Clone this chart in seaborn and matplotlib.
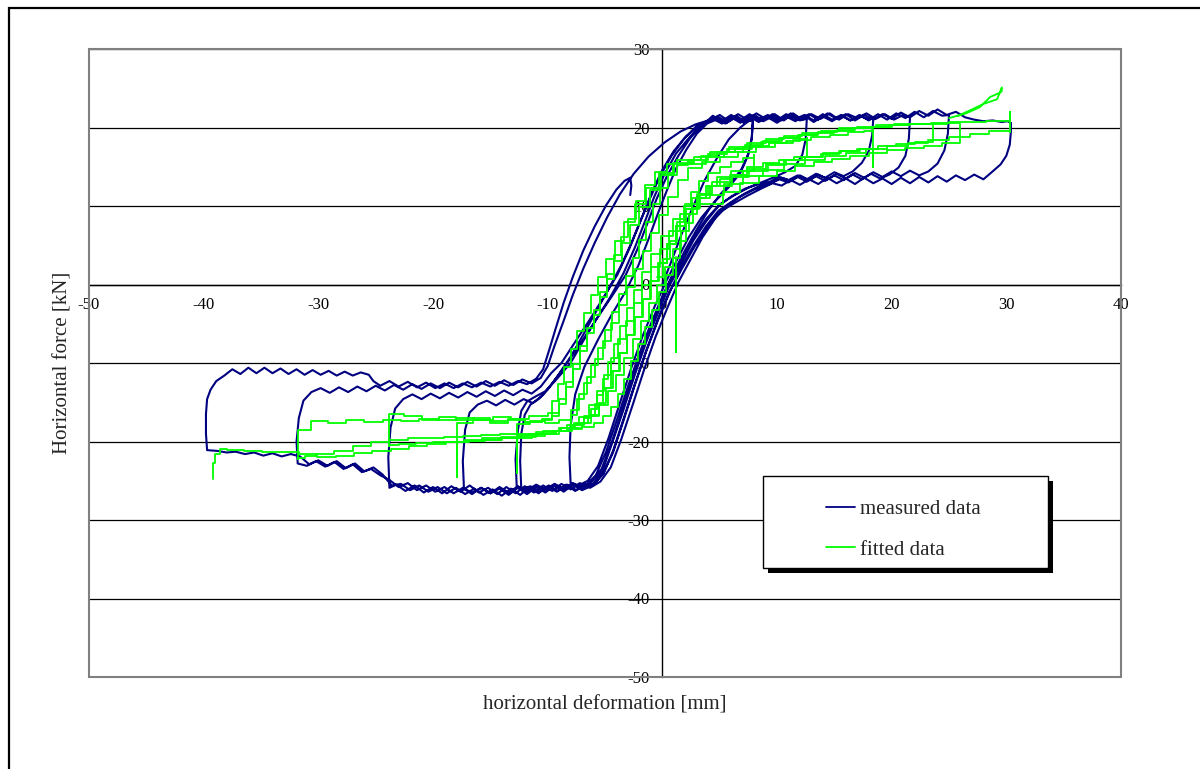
import numpy as np
import matplotlib
matplotlib.use("Agg")
import matplotlib.pyplot as plt
import seaborn as sns
from matplotlib.patches import Rectangle
from matplotlib.lines import Line2D

# ---------------- data ----------------
# measured data: hysteresis cycles (deformation mm, force kN)
m1_x = [0.0, 0.8, 1.7, 2.7, 3.7, 4.8, 5.8, 6.8, 7.5, 7.9, 7.8, 7.4, 6.8, 5.8, 4.6, 3.4, 2.3, 1.3, 0.3, -0.7,
        -1.7, -2.7, -3.7, -4.7, -5.6, -6.5, -7.3, -8.0, -8.1, -8.0, -7.6, -6.8, -5.6, -4.4, -3.2, -2.1, -1.2, -0.4,
        0.4, 1.2, 2.1, 3.0, 3.9]
m1_y = [0.0, 3.0, 6.5, 10.0, 13.3, 16.2, 18.5, 20.0, 20.8, 21.0, 18.5, 16.2, 14.2, 12.4, 10.6, 8.5, 6.0, 3.2, 0.3, -2.9,
        -6.5, -10.6, -15.1, -19.6, -23.1, -25.0, -25.6, -25.3, -22.0, -18.0, -14.0, -10.5, -7.0, -3.8, -0.9, 2.4, 5.8, 9.0,
        12.0, 14.8, 17.2, 19.2, 20.5]

m7_x = [4.7, 5.5, 6.3, 7.1, 7.9,
        7.8, 7.5, 6.9, 6.0, 5.0, 4.0, 3.0, 2.0, 1.0, 0.0, -1.0, -2.0, -3.0, -4.0, -4.9, -5.8,
        -6.7, -7.5, -8.3, -9.1, -9.9, -10.7, -11.5, -12.3,
        -12.4, -12.3, -12.0, -11.5, -10.8,
        -10.0, -9.1, -8.0, -6.9, -5.8, -4.7, -3.6, -2.6, -1.7, -0.9, 0.0, 1.0, 2.1, 3.3, 4.3]
m7_y = [21.0, 20.5, 21.2, 20.6, 21.0,
        18.8, 16.6, 14.7, 13.0, 11.4, 9.4, 7.0, 4.4, 1.6, -1.5, -5.0, -8.8, -13.0, -17.4, -21.3, -24.3,
        -25.6, -26.2, -25.5, -26.3, -25.6, -26.4, -25.7, -26.1,
        -22.5, -19.0, -16.6, -15.3, -14.6,
        -13.4, -11.6, -9.2, -6.4, -3.5, -0.6, 2.4, 5.6, 8.8, 11.8, 14.6, 17.0, 18.9, 20.3, 20.9]

m2_x = [4.8, 5.6, 6.4, 7.2, 8.0, 8.8, 9.6, 10.4, 11.2, 12.0, 12.6,
        12.5, 12.2, 11.6, 10.7, 9.8, 8.8, 7.6, 6.3, 5.0, 3.8, 2.7, 1.7, 0.6, -0.4, -1.4, -2.4, -3.4, -4.4, -5.3, -6.2,
        -7.0, -7.8, -8.6, -9.4, -10.2, -11.0, -11.8, -12.7,
        -12.8, -12.6, -12.3, -11.8, -11.1,
        -10.2, -9.3, -8.0, -6.9, -5.7, -4.5, -3.4, -2.4, -1.5, -0.7, 0.2, 1.2, 2.4, 3.6]
m2_y = [21.2, 20.6, 21.4, 20.7, 21.5, 20.8, 21.4, 20.9, 21.5, 20.9, 21.1,
        18.5, 16.5, 15.1, 14.3, 13.7, 13.1, 12.4, 11.4, 10.2, 8.3, 5.9, 3.1, 0.2, -3.3, -6.9, -11.1, -15.6, -20.1, -23.5, -25.2,
        -25.9, -25.3, -26.0, -25.4, -26.1, -25.5, -26.2, -25.7,
        -22.2, -18.6, -16.1, -14.9, -14.3,
        -13.6, -12.2, -10.0, -7.2, -4.3, -1.5, 1.4, 4.7, 8.1, 11.2, 14.1, 16.7, 18.8, 20.4]

m3_x = [4.4, 5.2, 6.0, 6.8, 7.6, 8.4, 9.2, 10.0, 10.8, 11.6, 12.4, 13.2, 14.0, 14.8, 15.6, 16.4, 17.2, 18.0, 18.4,
        18.3, 18.0, 17.4, 16.6, 15.8, 15.0, 14.2, 13.4, 12.6, 11.8, 11.0, 10.2, 9.4, 8.4, 7.2, 6.0, 4.9, 3.8, 2.7, 1.7,
        0.6, -0.4, -1.4, -2.4, -3.4, -4.4, -5.2, -6.1,
        -7.0, -7.8, -8.6, -9.4, -10.2, -11.0, -11.8, -12.6, -13.4, -14.2, -15.0, -15.8, -16.6, -17.3,
        -17.4, -17.2, -16.8, -16.1, -15.3, -14.5, -13.7, -12.9, -12.1, -11.3, -10.5,
        -9.5, -8.3, -7.0, -5.7, -4.4, -3.2, -2.2, -1.3, -0.5, 0.4, 1.4, 2.4, 3.4]
m3_y = [21.5, 20.8, 21.6, 20.9, 21.7, 21.0, 21.6, 20.9, 21.7, 21.1, 21.6, 20.9, 21.7, 21.0, 21.6, 20.9, 21.5, 21.0, 21.2,
        19.0, 17.0, 15.5, 14.4, 13.8, 14.3, 13.6, 14.1, 13.4, 13.9, 13.3, 13.7, 13.1, 12.8, 12.2, 11.2, 10.0, 8.0, 5.6, 2.8,
        -0.2, -3.7, -7.3, -11.5, -16.0, -20.3, -23.7, -25.5,
        -26.1, -25.4, -26.2, -25.5, -26.3, -25.6, -26.4, -25.7, -26.5, -25.8, -26.6, -25.9, -26.5, -26.0,
        -22.5, -18.5, -16.3, -15.3, -14.8, -15.4, -14.7, -15.3, -14.6, -15.1, -14.2,
        -12.4, -10.0, -7.2, -4.3, -1.5, 1.2, 4.4, 7.8, 10.9, 13.8, 16.4, 18.6, 20.3]

m4_x = [4.2, 5.0, 5.8, 6.6, 7.4, 8.2, 9.0, 9.8, 10.6, 11.4, 12.2, 13.0, 13.8, 14.6, 15.4, 16.2, 17.0, 17.8, 18.6, 19.4,
        20.2, 21.0, 21.6,
        21.5, 21.2, 20.6, 19.8, 19.0, 18.2, 17.4, 16.6, 15.8, 15.0, 14.2, 13.4, 12.6, 11.8, 11.0, 10.2, 9.2, 8.0, 6.8, 5.7,
        4.6, 3.5, 2.5, 1.4, 0.4, -0.6, -1.6, -2.6, -3.6, -4.5, -5.4, -6.3,
        -7.2, -8.0, -8.8, -9.6, -10.4, -11.2, -12.0, -12.8, -13.6, -14.4, -15.2, -16.0, -16.8, -17.6, -18.4, -19.2,
        -20.0, -20.8, -21.6, -22.4, -23.2, -23.8,
        -23.9, -23.7, -23.3, -22.6, -21.8, -21.0, -20.2, -19.4, -18.6, -17.8, -17.0, -16.2, -15.4, -14.6, -13.8,
        -13.0, -12.2, -11.4, -10.6,
        -9.7, -8.8, -7.6, -6.3, -5.1, -3.9, -2.9, -2.0, -1.1, -0.2, 0.8, 1.9, 3.0]
m4_y = [20.9, 21.6, 20.8, 21.7, 21.0, 21.8, 21.1, 21.7, 20.9, 21.8, 21.0, 21.7, 21.1, 21.8, 21.0, 21.7, 21.2, 21.8, 21.1, 21.7,
        21.0, 21.6, 21.3,
        18.6, 16.4, 14.9, 14.0, 13.5, 14.1, 13.4, 14.0, 13.3, 13.9, 13.2, 13.8, 13.1, 13.7, 13.0, 13.4, 12.7, 12.1, 11.2, 10.1,
        8.4, 6.0, 3.3, 0.3, -3.1, -6.7, -10.9, -15.4, -19.8, -23.3, -25.1, -25.9,
        -25.3, -26.1, -25.4, -26.3, -25.6, -26.5, -25.7, -26.6, -25.8, -26.7, -25.9, -26.5, -25.6, -26.4, -25.7, -26.6,
        -25.8, -26.5, -25.6, -26.3, -25.5, -25.9,
        -22.0, -18.2, -15.8, -14.6, -14.0, -14.6, -13.9, -14.5, -13.8, -14.4, -13.7, -14.3, -13.6, -14.2, -13.5,
        -14.1, -13.4, -13.9, -13.0,
        -11.3, -10.0, -7.3, -4.4, -1.6, 1.3, 4.5, 7.8, 10.9, 13.8, 16.4, 18.6, 20.2]

m5_x = [4.4, 5.2, 6.0, 6.8, 7.6, 8.4, 9.2, 10.0, 10.8, 11.6, 12.4, 13.2, 14.0, 14.8, 15.6, 16.4, 17.2, 18.0, 18.8, 19.6,
        20.4, 21.2, 22.0, 22.8, 23.6, 24.4, 25.0,
        24.9, 24.6, 24.0, 23.2, 22.4, 21.6, 20.8, 20.0, 19.2, 18.4, 17.6, 16.8, 16.0, 15.2, 14.4, 13.6, 12.8, 12.0, 11.2, 10.4,
        9.5, 8.4, 7.2, 6.0, 4.9, 3.8, 2.7, 1.6, 0.6, -0.4, -1.4, -2.4, -3.4, -4.3, -5.2, -6.1,
        -7.0, -7.8, -8.6, -9.4, -10.2, -11.0, -11.8, -12.6, -13.4, -14.2, -15.0, -15.8, -16.6, -17.4, -18.2, -19.0,
        -19.8, -20.6, -21.4, -22.2, -23.0, -23.8, -24.6, -25.4, -26.2, -27.0, -27.8, -28.6, -29.4, -30.2, -31.0, -31.8,
        -31.9, -31.7, -31.3, -30.6, -29.8, -29.0, -28.2, -27.4, -26.6, -25.8, -25.0, -24.2, -23.4, -22.6, -21.8, -21.0,
        -20.2, -19.4, -18.6, -17.8, -17.0, -16.2, -15.4, -14.6, -13.8, -13.0, -12.2, -11.4, -10.6,
        -10.0, -9.4, -8.6, -7.8, -6.9, -5.9, -4.8, -3.7, -2.5, -1.2, 0.2, 1.6, 2.9, 4.0]
m5_y = [21.1, 20.5, 21.3, 20.6, 21.4, 20.7, 21.3, 20.6, 21.4, 20.8, 21.5, 20.7, 21.4, 20.8, 21.5, 20.9, 21.6, 20.9, 21.7, 21.0,
        21.8, 21.2, 22.0, 21.3, 22.1, 21.5, 21.6,
        19.2, 17.1, 15.4, 14.4, 13.9, 14.5, 13.8, 14.4, 13.7, 14.3, 13.6, 14.2, 13.5, 14.1, 13.4, 14.0, 13.3, 13.9, 13.2, 13.6,
        13.0, 12.5, 11.6, 10.5, 9.4, 7.4, 4.9, 2.0, -1.1, -4.6, -8.5, -12.8, -17.4, -21.4, -24.2, -25.6,
        -26.2, -25.5, -26.4, -25.6, -26.5, -25.8, -26.7, -25.9, -26.8, -26.0, -26.6, -25.9, -26.7, -25.9, -26.6, -25.8,
        -26.4, -25.6, -26.2, -25.3, -25.8, -24.9, -24.3, -23.5, -23.9, -22.9, -23.5, -22.6, -23.2, -22.5, -23.1, -22.8,
        -20.0, -17.0, -14.8, -13.7, -13.2, -13.8, -13.1, -13.7, -13.0, -13.6, -12.9, -13.5, -12.8, -13.4, -12.7, -13.3,
        -12.6, -13.2, -12.5, -13.1, -12.4, -13.0, -12.3, -12.9, -12.2, -12.8, -12.1, -12.6, -11.9,
        -10.4, -7.8, -4.6, -1.3, 2.0, 5.3, 8.6, 11.5, 14.1, 16.3, 18.1, 19.5, 20.4, 20.9]

m6_x = [4.8, 5.6, 6.4, 7.2, 8.0, 8.8, 9.6, 10.4, 11.2, 12.0, 12.8, 13.6, 14.4, 15.2, 16.0, 16.8, 17.6, 18.4, 19.2, 20.0,
        20.8, 21.6, 22.4, 23.2, 24.0, 24.8, 25.6, 26.4, 27.2, 28.0, 28.8, 29.6, 30.1, 30.4,
        30.4, 30.3, 30.0, 29.5, 28.8, 28.0, 27.2, 26.4, 25.6, 24.8, 24.0, 23.2, 22.4, 21.6, 20.8, 20.0, 19.2, 18.4, 17.6, 16.8,
        16.0, 15.2, 14.4, 13.6, 12.8, 12.0, 11.2, 10.4, 9.6, 8.6, 7.4, 6.2, 5.0, 3.9, 2.8, 1.7, 0.6, -0.4, -1.4, -2.4,
        -3.4, -4.3, -5.1, -6.0,
        -6.8, -7.6, -8.4, -9.2, -10.0, -10.8, -11.6, -12.4, -13.2, -14.0, -14.8, -15.6, -16.4, -17.2, -18.0, -18.8,
        -19.6, -20.4, -21.2, -22.0, -22.8, -23.6, -24.4, -25.2, -26.0, -26.8, -27.6, -28.4, -29.2, -30.0, -30.8, -31.6,
        -32.4, -33.2, -34.0, -34.8, -35.6, -36.4, -37.2, -38.0, -38.8, -39.7,
        -39.8, -39.8, -39.7, -39.4, -38.9, -38.2, -37.5, -36.8, -36.1, -35.4, -34.7, -34.0, -33.3, -32.6, -31.9, -31.2,
        -30.5, -29.8, -29.1, -28.4, -27.7, -27.0, -26.3, -25.6, -25.2, -24.6, -23.8, -23.0, -22.2, -21.4, -20.6, -19.8,
        -19.0, -18.2, -17.4, -16.6, -15.8, -15.0, -14.2, -13.4, -12.6, -11.8, -11.0,
        -10.4, -9.9, -9.3, -8.6, -7.8, -6.9, -5.9, -4.9, -4.0, -3.3, -2.8, -2.7, -2.8]
m6_y = [21.4, 20.7, 21.5, 20.8, 21.6, 20.9, 21.7, 21.0, 21.8, 21.1, 21.7, 21.0, 21.8, 21.1, 21.7, 20.9, 21.6, 21.0, 21.7, 21.1,
        21.9, 21.3, 22.1, 21.5, 22.3, 21.6, 22.0, 21.3, 21.0, 20.8, 20.9, 20.7, 20.8, 20.6,
        19.5, 17.8, 16.4, 15.3, 14.4, 13.4, 14.0, 13.3, 13.9, 13.1, 13.8, 13.0, 13.7, 12.9, 13.6, 12.8, 13.5, 12.9, 13.6, 12.8,
        13.5, 12.9, 13.6, 12.8, 13.4, 12.7, 13.3, 12.6, 12.9, 12.2, 11.3, 10.3, 9.2, 7.2, 4.8, 2.0, -1.0, -4.5, -8.4, -12.7,
        -17.2, -21.2, -24.0, -25.5,
        -25.4, -26.3, -25.5, -26.4, -25.7, -26.6, -25.8, -26.8, -26.0, -26.9, -26.1, -26.8, -26.0, -26.7, -25.9, -26.6,
        -25.8, -26.4, -25.6, -26.2, -25.4, -25.6, -24.2, -23.3, -23.8, -22.8, -23.4, -22.5, -23.1, -22.4, -22.9, -21.9,
        -21.6, -21.9, -21.5, -21.8, -21.4, -21.6, -21.3, -21.4, -21.2, -21.1,
        -19.0, -16.5, -14.6, -13.4, -12.3, -11.6, -10.8, -11.4, -10.6, -11.3, -10.6, -11.3, -10.7, -11.4, -10.8, -11.5,
        -10.9, -11.5, -11.0, -11.6, -11.1, -11.6, -11.2, -11.5, -12.3, -12.9, -12.3, -13.0, -12.4, -13.1, -12.5, -13.2,
        -12.6, -13.2, -12.6, -13.1, -12.5, -13.0, -12.4, -12.9, -12.3, -12.7, -12.0,
        -10.8, -8.5, -5.6, -2.3, 1.0, 4.3, 7.4, 10.1, 12.1, 13.2, 13.6, 12.6, 11.4]

# fitted data: model cycles (drawn as stepped lines)
f1_x = [-0.5, 0.1, 0.7, 1.3, 1.9, 2.5, 3.2, 4.0, 5.0, 6.0, 7.0, 8.0, 8.0, 7.0, 6.0, 5.0, 4.0, 3.3, 2.7, 2.1,
        1.5, 0.9, 0.3, -0.3, -0.9, -1.5, -2.1, -2.7, -3.3, -3.9, -4.5, -5.2, -6.0, -7.0, -8.0, -8.0, -7.4, -6.8, -6.2, -5.6,
        -5.0, -4.4, -3.8, -3.2, -2.6, -2.0, -1.4, -0.8, -0.2, 0.5, 1.3]
f1_y = [1.0, 3.3, 5.6, 7.9, 10.0, 11.8, 13.2, 14.2, 15.0, 15.6, 16.1, 16.5, 14.5, 14.0, 13.4, 12.6, 11.5, 9.8, 7.8, 5.6,
        3.4, 1.2, -1.0, -3.2, -5.4, -7.6, -9.8, -12.0, -14.0, -15.6, -16.8, -17.6, -18.1, -18.4, -18.6, -16.6, -14.6, -12.5,
        -10.3, -8.1, -5.8, -3.5, -1.2, 1.1, 3.4, 5.7, 8.0, 10.2, 12.3, 14.0, 15.2]

f2_x = [2.2, 3.4, 4.8, 6.3, 7.8, 9.3, 10.8, 12.0, 12.6, 12.6, 11.5, 10.2, 8.8, 7.4, 6.0, 4.8, 3.8, 3.0, 2.3, 1.6,
        0.9, 0.2, -0.5, -1.2, -1.9, -2.6, -3.3, -4.0, -4.7, -5.5, -6.5, -7.7, -9.0, -10.4, -11.6, -12.7, -12.7, -12.7, -11.5,
        -10.2, -9.0, -8.0, -7.3, -6.6, -5.9, -5.2, -4.5, -3.8, -3.1, -2.4, -1.7, -1.0, -0.3, 0.5, 1.4]
f2_y = [15.8, 16.4, 16.9, 17.3, 17.7, 18.0, 18.3, 18.5, 18.6, 16.2, 15.9, 15.5, 15.0, 14.4, 13.7, 12.6, 11.0, 9.0, 6.8, 4.5,
        2.2, -0.1, -2.4, -4.7, -7.0, -9.3, -11.5, -13.6, -15.4, -16.8, -17.7, -18.3, -18.7, -19.0, -19.2, -19.3, -24.0, -17.8,
        -17.4, -17.6, -17.2, -16.0, -14.0, -11.8, -9.5, -7.2, -4.9, -2.6, -0.3, 2.0, 4.3, 6.6, 8.9, 11.1, 13.3]

f3_x = [2.2, 3.5, 5.0, 6.6, 8.2, 9.8, 11.4, 13.0, 14.6, 16.2, 17.6, 18.4, 18.4, 18.4, 17.0, 15.4, 13.8, 12.2, 10.6, 9.0,
        7.4, 5.9, 4.3, 3.0, 2.0, 1.2, 0.4, -0.3, -1.0, -1.7, -2.4, -3.1, -3.8, -4.5, -5.2, -5.9, -6.8, -7.9, -9.0, -10.2,
        -11.4, -12.8, -14.2, -15.6, -16.9, -17.9, -17.9, -17.9, -16.5, -15.0, -13.5, -12.0, -10.5, -9.6, -9.0, -8.4, -7.8,
        -7.2, -6.6, -6.0, -5.4, -4.8, -4.2, -3.6, -3.0, -2.3, -1.5, -0.6, 0.4, 1.3]
f3_y = [14.8, 15.6, 16.3, 16.9, 17.5, 18.0, 18.4, 18.8, 19.1, 19.4, 19.6, 19.7, 15.0, 17.2, 17.0, 16.6, 16.2, 15.8, 15.3, 14.7,
        14.0, 13.0, 11.5, 9.6, 7.4, 5.1, 2.8, 0.5, -1.8, -4.1, -6.4, -8.7, -11.0, -13.2, -15.2, -16.8, -17.9, -18.6, -19.0,
        -19.3, -19.5, -19.6, -19.8, -19.9, -20.0, -20.1, -24.5, -17.6, -17.3, -17.6, -17.2, -17.5, -17.1, -16.4, -14.6, -12.4,
        -10.1, -7.8, -5.5, -3.2, -0.9, 1.4, 3.7, 6.0, 8.3, 10.6, 12.7, 14.3, 15.3, 15.9]

f4_x = [2.4, 3.8, 5.4, 7.0, 8.6, 10.2, 11.8, 13.4, 15.0, 16.6, 18.2, 19.8, 21.4, 23.0, 23.6, 23.6, 22.0, 20.4, 18.8, 17.2,
        15.6, 14.0, 12.4, 10.8, 9.2, 7.6, 6.1, 4.2, 2.6, 1.5, 0.6, -0.2, -1.0, -1.8, -2.5, -3.2, -3.9, -4.5, -5.1, -5.7,
        -6.4, -7.3, -8.3, -9.5, -11.0, -12.5, -14.0, -15.5, -17.0, -18.5, -20.0, -21.5, -23.0, -23.8, -23.8, -22.5, -21.0,
        -19.5, -18.0, -16.5, -15.0, -13.5, -12.0, -10.5, -9.6, -9.0, -8.4, -7.8, -7.2, -6.6, -6.0, -5.4, -4.8, -4.2, -3.5,
        -2.8, -2.0, -1.1, -0.1, 1.0]
f4_y = [15.4, 16.2, 16.9, 17.5, 18.1, 18.6, 19.0, 19.3, 19.6, 19.9, 20.1, 20.3, 20.4, 20.5, 20.5, 18.2, 17.9, 17.6, 17.3, 17.0,
        16.7, 16.3, 15.8, 15.2, 14.5, 13.7, 12.6, 11.0, 9.0, 6.8, 4.5, 2.2, -0.1, -2.4, -4.7, -7.0, -9.3, -11.5, -13.6, -15.4,
        -16.9, -17.9, -18.6, -19.1, -19.4, -19.6, -19.8, -19.9, -20.0, -20.1, -20.2, -20.3, -20.4, -20.6, -16.5, -16.8, -17.2,
        -16.9, -17.3, -17.0, -17.4, -17.1, -17.5, -17.2, -16.8, -15.2, -13.0, -10.8, -8.5, -6.2, -3.9, -1.6, 0.7, 3.0, 5.3,
        7.6, 9.9, 12.0, 14.0, 15.3]

f5_x = [2.6, 4.0, 5.6, 7.2, 8.8, 10.4, 12.0, 13.6, 15.2, 16.8, 18.4, 20.0, 21.6, 23.2, 24.8, 26.0, 26.0, 24.4, 22.8, 21.2,
        19.6, 18.0, 16.4, 14.8, 13.2, 11.6, 10.0, 8.4, 6.8, 5.3, 2.0, 0.9, -0.1, -1.0, -1.8, -2.5, -3.1, -3.7, -4.2, -4.7,
        -5.2, -5.7, -6.2, -6.8, -7.6, -8.8, -9.4, -11.0, -12.6, -14.2, -15.8, -17.4, -19.0, -20.6, -22.2, -23.8, -25.4,
        -27.0, -28.6, -30.2, -31.2, -31.8, -31.8, -30.6, -29.2, -27.6, -26.0, -24.4, -22.8, -21.2, -19.6, -18.0, -16.4,
        -14.8, -13.2, -11.6, -10.0, -9.6, -9.1, -8.6, -8.0, -7.4, -6.8, -6.2, -5.6, -4.9, -4.1, -3.3, -2.4, -1.4, -0.3, 0.9]
f5_y = [15.9, 16.6, 17.2, 17.8, 18.3, 18.7, 19.1, 19.4, 19.7, 19.9, 20.1, 20.3, 20.4, 20.5, 20.6, 20.6, 18.0, 17.7, 17.4, 17.1,
        16.8, 16.4, 16.0, 15.6, 15.1, 14.5, 13.8, 12.9, 11.8, 10.3, 8.4, 6.2, 3.9, 1.6, -0.7, -3.0, -5.3, -7.6, -9.9, -12.1,
        -14.1, -15.8, -17.0, -17.8, -18.3, -18.6, -18.8, -19.0, -19.1, -19.2, -19.3, -19.4, -19.5, -19.6, -19.8, -20.0, -20.6,
        -21.2, -21.6, -21.9, -22.1, -22.2, -18.5, -17.4, -17.6, -17.3, -17.5, -17.2, -17.4, -17.1, -17.3, -17.0, -17.2,
        -16.9, -17.1, -16.8, -16.4, -14.8, -12.7, -10.5, -8.2, -5.9, -3.6, -1.3, 1.0, 3.3, 5.6, 7.9, 10.2, 12.3, 14.2, 15.5]

f6_x = [2.8, 4.2, 5.8, 7.4, 9.0, 10.6, 12.2, 13.8, 15.4, 17.0, 18.6, 20.2, 21.8, 23.4, 25.0, 26.6, 28.2, 29.6, 30.3, 30.3,
        30.3, 28.5, 26.8, 25.0, 23.2, 21.4, 19.6, 17.8, 16.0, 14.2, 12.4, 10.6, 8.8, 7.0, 5.4, 3.2, 2.1, 1.2, 0.4, -0.4,
        -1.1, -1.8, -2.5, -3.1, -3.7, -4.3, -4.9, -5.5, -6.2, -7.0, -8.2, -9.3, -10.9, -12.5, -14.1, -15.7, -17.3, -18.9,
        -20.5, -22.1, -23.7, -25.3, -26.9, -28.5, -30.1, -31.7, -33.3, -34.9, -36.5, -38.0, -38.6, -39.0, -39.2]
f6_y = [16.2, 16.9, 17.5, 18.0, 18.5, 18.9, 19.3, 19.6, 19.9, 20.1, 20.3, 20.4, 20.5, 20.6, 20.7, 20.7, 20.8, 20.8, 22.0, 19.4,
        19.6, 19.2, 18.8, 18.4, 18.0, 17.6, 17.2, 16.8, 16.4, 15.9, 15.3, 14.6, 13.8, 12.8, 11.4, 9.6, 7.4, 5.1, 2.8, 0.5,
        -1.8, -4.1, -6.4, -8.7, -11.0, -13.2, -15.1, -16.6, -17.6, -18.3, -18.7, -19.0, -19.2, -19.4, -19.6, -19.8, -20.0,
        -20.3, -20.6, -20.9, -21.2, -21.5, -21.8, -22.0, -21.6, -21.4, -21.3, -21.2, -21.1, -21.0, -21.6, -22.8, -24.8]

# fitted data: smooth excursion at the top right and a single spike near x = 1
ftail_x = [25.0, 26.5, 27.7, 28.6, 29.4, 29.6, 29.6, 29.2, 28.0, 27.0, 25.8]
ftail_y = [21.2, 21.8, 22.6, 23.9, 24.4, 24.6, 25.1, 23.6, 23.0, 22.3, 21.5]
fspike_x = [1.2, 1.2, 1.2]
fspike_y = [3.5, -8.6, 2.0]

x_ticks = [-50, -40, -30, -20, -10, 0, 10, 20, 30, 40]
y_ticks = [-50, -40, -30, -20, -10, 0, 10, 20, 30]
labels = ["measured data", "fitted data"]
x_title = "horizontal deformation [mm]"
y_title = "Horizontal force [kN]"

NAVY = "#000080"
GREEN = "#00FF00"

# ---------------- figure ----------------
sns.set_style("white")
plt.rcParams["font.family"] = ["Liberation Serif", "DejaVu Serif"]
plt.rcParams["axes.unicode_minus"] = False

W, H = 1200, 769
fig = plt.figure(figsize=(W / 100, H / 100), dpi=100)
ax = fig.add_axes([89 / W, 1 - 677 / H, (1121 - 89) / W, (677 - 49) / H])

meas_x = np.concatenate([m1_x, m7_x, m2_x, m3_x, m4_x, m5_x, m6_x])
meas_y = np.concatenate([m1_y, m7_y, m2_y, m3_y, m4_y, m5_y, m6_y])
fit_x = np.concatenate([f1_x, f2_x, f3_x, f4_x, f5_x, f6_x])
fit_y = np.concatenate([f1_y, f2_y, f3_y, f4_y, f5_y, f6_y])

sns.lineplot(x=meas_x, y=meas_y, sort=False, estimator=None, color=NAVY, lw=1.5, ax=ax, legend=False, zorder=3)
sns.lineplot(x=fit_x, y=fit_y, sort=False, estimator=None, color=GREEN, lw=1.3, ax=ax, legend=False,
             drawstyle="steps-post", zorder=4)
sns.lineplot(x=ftail_x, y=ftail_y, sort=False, estimator=None, color=GREEN, lw=1.3, ax=ax, legend=False, zorder=4)
sns.lineplot(x=fspike_x, y=fspike_y, sort=False, estimator=None, color=GREEN, lw=1.3, ax=ax, legend=False, zorder=4)

ax.set_xlim(-50, 40)
ax.set_ylim(-50, 30)
ax.set_xticks(x_ticks)
ax.set_yticks(y_ticks)
ax.grid(axis="y", color="#000000", lw=0.9)
ax.grid(axis="x", visible=False)
ax.set_axisbelow(True)

for s in ["top", "right"]:
    ax.spines[s].set_visible(False)
for s in ["left", "bottom"]:
    ax.spines[s].set_position(("data", 0))
    ax.spines[s].set_color("black")
    ax.spines[s].set_linewidth(1.0)
    ax.spines[s].set_zorder(2)
ax.tick_params(direction="out", length=6, width=1, color="black", labelsize=12, pad=3, labelcolor="black")

# grey plot-area border
ax.add_patch(Rectangle((0, 0), 1, 1, transform=ax.transAxes, fill=False, edgecolor="#808080",
                       lw=1.5, clip_on=False, zorder=6))

ax.set_xlabel(x_title, fontsize=15, va="center")
ax.xaxis.set_label_coords(0.5, (677 - 705) / (677 - 49))
ax.set_ylabel(y_title, fontsize=15, va="center", ha="center")
ax.yaxis.set_label_coords((63 - 89) / (1121 - 89), 0.5)

# outer chart border (runs off the right and bottom edges)
fig.patches.append(Rectangle((8.5 / W, -0.2), 1.2, 1 - 7.5 / H + 0.2, transform=fig.transFigure,
                             fill=False, edgecolor="black", lw=1.6))

# legend box with hard black shadow
lx0, ly0, lw_, lh_ = 763, 476, 285, 92
ax.add_patch(Rectangle(((lx0 + 5) / W, 1 - (ly0 + lh_ + 5) / H), lw_ / W, lh_ / H, transform=fig.transFigure,
                       facecolor="black", edgecolor="black", lw=0, clip_on=False, zorder=7))
ax.add_patch(Rectangle((lx0 / W, 1 - (ly0 + lh_) / H), lw_ / W, lh_ / H, transform=fig.transFigure,
                       facecolor="white", edgecolor="black", lw=1.0, clip_on=False, zorder=8))
handles = [Line2D([], [], color=NAVY, lw=1.3), Line2D([], [], color=GREEN, lw=1.3)]
leg = ax.legend(handles, labels, loc="upper left", bbox_to_anchor=(807 / W, 1 - 481 / H),
                bbox_transform=fig.transFigure, frameon=False, fontsize=15, handlelength=1.4,
                handletextpad=0.25, labelspacing=1.0, borderpad=0.4)
leg.set_zorder(9)

fig.savefig("out.png", dpi=100)
